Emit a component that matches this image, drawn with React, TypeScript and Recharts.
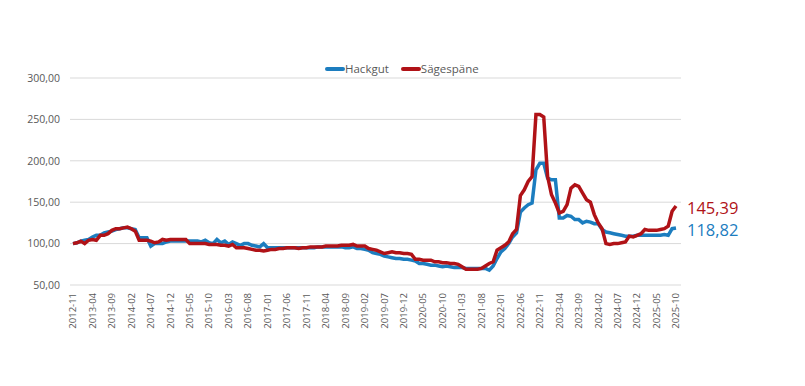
import React from "react";
import { LineChart, Line, XAxis, YAxis, CartesianGrid } from "recharts";

const hackgut = [
  100, 101, 103, 104, 105, 108, 110, 110, 113, 114,
  115, 117, 118, 119, 119, 118, 117, 107, 107, 107,
  97, 100, 100, 100, 102, 103, 103, 103, 103, 103,
  103, 103, 103, 102, 104, 101, 100, 105, 101, 103,
  99, 102, 100, 98, 100, 100, 98, 97, 96, 100,
  95, 95, 95, 95, 95, 95, 95, 95, 95, 95,
  95, 95, 95, 96, 96, 96, 96, 96, 96, 96,
  95, 95, 96, 94, 94, 93, 92, 89, 88, 87,
  85, 84, 83, 82, 82, 81, 81, 80, 79, 76,
  76, 75, 74, 74, 73, 72, 73, 72, 71, 71,
  71, 70, 70, 70, 70, 70, 70, 68, 73, 82,
  90, 94, 100, 108, 113, 138, 143, 147, 149, 189,
  197, 197, 179, 177, 177, 131, 131, 134, 133, 129,
  129, 125, 127, 126, 124, 124, 117, 114, 113, 112,
  111, 110, 109, 109, 109, 110, 110, 110, 110, 110,
  110, 110, 111, 110, 118, 118.82,
];

const saegespaene = [
  100, 101, 103, 100, 104, 105, 104, 110, 110, 112,
  116, 118, 118, 119, 120, 118, 115, 104, 104, 104,
  103, 101, 102, 105, 104, 105, 105, 105, 105, 105,
  100, 100, 100, 100, 100, 99, 99, 99, 98, 98,
  97, 99, 95, 95, 95, 94, 93, 92, 92, 91,
  92, 93, 93, 94, 94, 95, 95, 95, 94, 95,
  95, 96, 96, 96, 96, 97, 97, 97, 97, 98,
  98, 98, 99, 97, 97, 97, 94, 93, 92, 90,
  88, 89, 90, 89, 89, 88, 88, 87, 81, 81,
  80, 80, 80, 78, 78, 77, 77, 76, 76, 75,
  72, 69, 69, 69, 69, 70, 73, 76, 78, 92,
  95, 98, 102, 112, 117, 158, 165, 175, 181, 256,
  256, 253, 181, 159, 149, 137, 139, 147, 167, 171,
  169, 161, 153, 150, 135, 125, 118, 100, 99, 100,
  100, 101, 102, 109, 108, 110, 112, 117, 116, 116,
  116, 117, 118, 121, 139, 145.39,
];

const seriesNames = ["Hackgut", "Sägespäne"];
const seriesColors = ["#1C7DBF", "#B01217"];
const yTicks = [50, 100, 150, 200, 250, 300];

const startYear = 2012;
const startMonth = 11;
const months: string[] = hackgut.map((_, i) => {
  const total = startMonth - 1 + i;
  const y = startYear + Math.floor(total / 12);
  const m = (total % 12) + 1;
  return `${y}-${m < 10 ? "0" + m : m}`;
});

const data = months.map((m, i) => ({
  month: m,
  Hackgut: hackgut[i],
  "Sägespäne": saegespaene[i],
}));

const FONT = "'Open Sans', 'Noto Sans', sans-serif";
const fmt = (v: number) => v.toFixed(2).replace(".", ",");

const XTick = (props: any) => {
  const { x, y, payload } = props;
  return (
    <text
      transform={`translate(${x},${y}) rotate(-90)`}
      textAnchor="end"
      dy="0.35em"
      fontSize={9.5}
      fill="#595959"
      fontFamily={FONT}
    >
      {payload.value}
    </text>
  );
};

const makeEndLabel = (color: string, len: number) => (props: any) => {
  const { x, y, index, value } = props;
  if (index !== len - 1) return null;
  return (
    <text
      x={x + 11}
      y={y + 1}
      dominantBaseline="central"
      fontSize={16.5}
      fill={color}
      fontFamily={FONT}
    >
      {fmt(value)}
    </text>
  );
};

export default function App() {
  return (
    <div
      style={{
        position: "absolute",
        left: 0,
        top: 0,
        width: 805,
        height: 386,
        background: "#fff",
        fontFamily: FONT,
      }}
    >
      <div
        style={{
          position: "absolute",
          left: 325,
          top: 61,
          display: "flex",
          alignItems: "center",
          fontSize: 11.5,
          color: "#595959",
          whiteSpace: "nowrap",
        }}
      >
        {seriesNames.map((n, i) => (
          <div
            key={n}
            style={{ display: "flex", alignItems: "center", marginRight: i === 0 ? 12 : 0 }}
          >
            <span
              style={{
                display: "inline-block",
                width: 20,
                height: 4,
                borderRadius: 2,
                background: seriesColors[i],
              }}
            />
            <span>{n}</span>
          </div>
        ))}
      </div>
      <LineChart
        width={805}
        height={386}
        data={data}
        margin={{ top: 78, right: 124, bottom: 0, left: 8 }}
      >
        <CartesianGrid vertical={false} stroke="#d9d9d9" strokeWidth={1} />
        <XAxis
          dataKey="month"
          interval={4}
          height={101}
          axisLine={false}
          tickLine={false}
          padding={{ left: 3, right: 5 }}
          tick={<XTick />}
        />
        <YAxis
          domain={[50, 300]}
          ticks={yTicks}
          width={62}
          axisLine={false}
          tickLine={false}
          tickMargin={4}
          tickFormatter={fmt}
          tick={{ fontSize: 10.5, fill: "#595959", fontFamily: FONT }}
        />
        <Line
          type="linear"
          dataKey="Hackgut"
          stroke={seriesColors[0]}
          strokeWidth={3.5}
          dot={false}
          isAnimationActive={false}
          label={makeEndLabel(seriesColors[0], hackgut.length)}
        />
        <Line
          type="linear"
          dataKey="Sägespäne"
          stroke={seriesColors[1]}
          strokeWidth={3.5}
          dot={false}
          isAnimationActive={false}
          label={makeEndLabel(seriesColors[1], saegespaene.length)}
        />
      </LineChart>
    </div>
  );
}
